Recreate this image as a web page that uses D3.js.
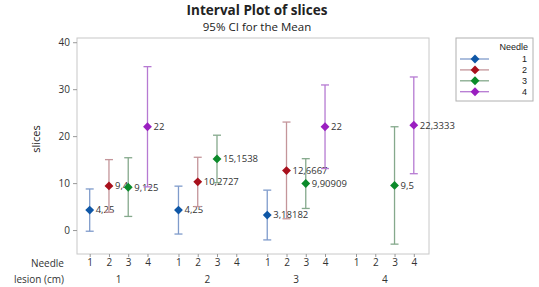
<!DOCTYPE html>
<html>
<head>
<meta charset="utf-8">
<script src="https://cdn.jsdelivr.net/npm/d3@7"></script>
<style>
  html, body { margin: 0; padding: 0; background: #fff; }
  svg { display: block; font-family: "Open Sans", "Noto Sans", sans-serif; }
</style>
</head>
<body>
<div id="chart"></div>
<script>
const lesions = ["1", "2", "3", "4"];
const needles = ["1", "2", "3", "4"];
const yTicks = [0, 10, 20, 30, 40];

// one entry per lesion size, null where the group has no data
const needle1Mean = [4.25, 4.25, 3.18182, null];
const needle1Lower = [-0.25, -0.85, -2.1, null];
const needle1Upper = [8.75, 9.35, 8.5, null];

const needle2Mean = [9.4, 10.2727, 12.6667, null];
const needle2Lower = [3.8, 5.0, 2.4, null];
const needle2Upper = [15.0, 15.5, 23.0, null];

const needle3Mean = [9.125, 15.1538, 9.90909, 9.5];
const needle3Lower = [2.9, 10.1, 4.6, -3.0];
const needle3Upper = [15.4, 20.2, 15.2, 22.0];

const needle4Mean = [22, null, 22, 22.3333];
const needle4Lower = [9.2, null, 13.1, 12.0];
const needle4Upper = [34.8, null, 30.9, 32.6];

const series = [
  { needle: "1", mean: needle1Mean, lower: needle1Lower, upper: needle1Upper, color: "#0f57a6", bar: "#7f9bcb" },
  { needle: "2", mean: needle2Mean, lower: needle2Lower, upper: needle2Upper, color: "#a8101c", bar: "#c4959a" },
  { needle: "3", mean: needle3Mean, lower: needle3Lower, upper: needle3Upper, color: "#0b8a2a", bar: "#85a98c" },
  { needle: "4", mean: needle4Mean, lower: needle4Lower, upper: needle4Upper, color: "#9a1fc0", bar: "#b67ad2" }
];

const width = 539, height = 287;
const frame = { left: 77, top: 38, right: 429, bottom: 254 };

const svg = d3.select("#chart").append("svg")
  .attr("width", width)
  .attr("height", height);

const outer = d3.scaleBand()
  .domain(lesions)
  .range([75.5, 428])
  .paddingInner(0.349)
  .paddingOuter(0.16);

const inner = d3.scalePoint()
  .domain(needles)
  .range([0, outer.bandwidth()]);

const y = d3.scaleLinear()
  .domain([-5.1, 40.9])
  .range([frame.bottom, frame.top]);

// titles
svg.append("text")
  .attr("x", 257).attr("y", 14.5)
  .attr("text-anchor", "middle")
  .attr("font-size", "13.5px")
  .attr("font-weight", "700")
  .attr("fill", "#222")
  .text("Interval Plot of slices");
svg.append("text")
  .attr("x", 257).attr("y", 30.5)
  .attr("text-anchor", "middle")
  .attr("font-size", "11.5px")
  .attr("fill", "#222")
  .text("95% CI for the Mean");

svg.append("rect")
  .attr("x", frame.left).attr("y", frame.top)
  .attr("width", frame.right - frame.left)
  .attr("height", frame.bottom - frame.top)
  .attr("fill", "none")
  .attr("stroke", "#c8c8c8");

const yAxis = svg.append("g")
  .attr("transform", `translate(${frame.left},0)`)
  .call(d3.axisLeft(y).tickValues(yTicks).tickSize(4).tickPadding(3));
yAxis.select(".domain").remove();
yAxis.selectAll("line").attr("stroke", "#999");
yAxis.selectAll("text").attr("font-size", "10px").attr("fill", "#333")
  .style("font-family", "'Open Sans', sans-serif");

svg.append("text")
  .attr("transform", "translate(40,139) rotate(-90)")
  .attr("text-anchor", "middle")
  .attr("font-size", "11px")
  .attr("fill", "#222")
  .text("slices");

// needle ticks under each lesion group
lesions.forEach(lesion => {
  const g = svg.append("g")
    .attr("transform", `translate(${outer(lesion)},${frame.bottom})`)
    .call(d3.axisBottom(inner).tickSize(3).tickPadding(2));
  g.select(".domain").remove();
  g.selectAll("line").attr("stroke", "#999");
  g.selectAll("text").attr("font-size", "10px").attr("fill", "#333")
    .style("font-family", "'Open Sans', sans-serif");
  svg.append("text")
    .attr("x", outer(lesion) + outer.bandwidth() / 2)
    .attr("y", 283)
    .attr("text-anchor", "middle")
    .attr("font-size", "10px")
    .attr("fill", "#333")
    .text(lesion);
});

svg.append("text")
  .attr("x", 64).attr("y", 266.5)
  .attr("text-anchor", "end")
  .attr("font-size", "10px")
  .attr("fill", "#333")
  .text("Needle");
svg.append("text")
  .attr("x", 64).attr("y", 283)
  .attr("text-anchor", "end")
  .attr("font-size", "10px")
  .attr("fill", "#333")
  .text("lesion (cm)");

const marker = d3.symbol().type(d3.symbolDiamond2).size(50);
const capHalf = 4;
const fmt = v => String(v).replace(".", ",");

lesions.forEach((lesion, li) => {
  series.forEach(s => {
    const m = s.mean[li];
    if (m == null) return;
    const cx = outer(lesion) + inner(s.needle);
    const g = svg.append("g");
    g.append("line")
      .attr("x1", cx).attr("x2", cx)
      .attr("y1", y(s.lower[li])).attr("y2", y(s.upper[li]))
      .attr("stroke", s.bar).attr("stroke-width", 1.3);
    [s.lower[li], s.upper[li]].forEach(v => {
      g.append("line")
        .attr("x1", cx - capHalf).attr("x2", cx + capHalf)
        .attr("y1", y(v)).attr("y2", y(v))
        .attr("stroke", s.bar).attr("stroke-width", 1.3);
    });
    g.append("path")
      .attr("d", marker)
      .attr("transform", `translate(${cx},${y(m)})`)
      .attr("fill", s.color);
    g.append("text")
      .attr("x", cx + 6)
      .attr("y", y(m))
      .attr("dy", ".35em")
      .attr("font-size", "9.5px")
      .attr("fill", "#333")
      .text(fmt(m));
  });
});

// legend
const legend = svg.append("g")
  .style("font-family", "'Liberation Sans', Arial, sans-serif");
legend.append("rect")
  .attr("x", 456).attr("y", 38)
  .attr("width", 77).attr("height", 63)
  .attr("fill", "#fff")
  .attr("stroke", "#b0b0b0");
legend.append("text")
  .attr("x", 528).attr("y", 50)
  .attr("text-anchor", "end")
  .attr("font-size", "9px")
  .attr("fill", "#222")
  .text("Needle");
series.forEach((s, i) => {
  const ly = 59 + i * 10.9;
  legend.append("line")
    .attr("x1", 460).attr("x2", 489)
    .attr("y1", ly).attr("y2", ly)
    .attr("stroke", s.bar).attr("stroke-width", 1.3);
  legend.append("path")
    .attr("d", marker)
    .attr("transform", `translate(475,${ly})`)
    .attr("fill", s.color);
  legend.append("text")
    .attr("x", 527).attr("y", ly)
    .attr("dy", ".35em")
    .attr("text-anchor", "end")
    .attr("font-size", "9px")
    .attr("fill", "#222")
    .text(s.needle);
});
</script>
</body>
</html>
